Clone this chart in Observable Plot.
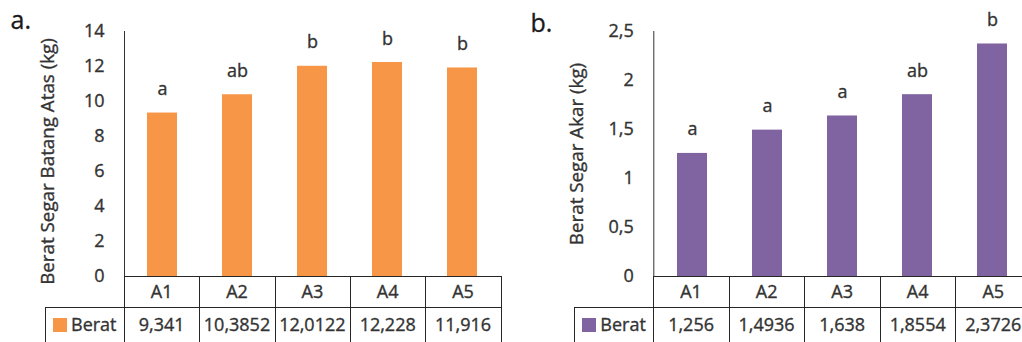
<!DOCTYPE html>
<html>
<head>
<meta charset="utf-8">
<script src="https://cdn.jsdelivr.net/npm/d3@7"></script>
<script src="https://cdn.jsdelivr.net/npm/@observablehq/plot@0.6"></script>
<style>
  html, body { margin: 0; background: #fff; }
  body { width: 1022px; height: 342px; overflow: hidden; position: relative; font-family: "Open Sans", sans-serif; }
  .panel { position: absolute; top: 0; width: 511px; height: 342px; overflow: hidden; }
  .panel svg { max-width: none !important; }
  .panel text { stroke: currentColor; stroke-width: 0.35px; paint-order: stroke; }
</style>
</head>
<body>
<div id="panel-a" class="panel" style="left:0"></div>
<div id="panel-b" class="panel" style="left:511px"></div>
<script>
// Treatments and measured fresh weights (kg)
const treatments = ["A1", "A2", "A3", "A4", "A5"];
const batangAtas = [9.341, 10.3852, 12.0122, 12.228, 11.916];
const batangLetters = ["a", "ab", "b", "b", "b"];
const akar = [1.256, 1.4936, 1.638, 1.8554, 2.3726];
const akarLetters = ["a", "a", "a", "ab", "b"];
const batangTicks = [0, 2, 4, 6, 8, 10, 12, 14];
const akarTicks = [0, 0.5, 1, 1.5, 2, 2.5];
const seriesName = "Berat";

const TEXT = "#333333";
const LINE = "#262626";
const comma = v => String(v).replace(".", ",");

function panel({host, tag, title, values, letters, ticks, color, width, marginLeft, marginRight, titleDy, tagDx, tagDy}) {
  const rows = treatments.map((t, i) => ({t, v: values[i], s: letters[i]}));
  const plot = Plot.plot({
    width, height: 342,
    marginLeft, marginRight, marginTop: 31, marginBottom: 66,
    style: {fontFamily: "'Open Sans', sans-serif", fontSize: "18px", color: TEXT, background: "#fff",
      overflow: "visible", maxWidth: "none"},
    x: {domain: treatments, paddingInner: 0.6, paddingOuter: 0.3, axis: null},
    y: {domain: [ticks[0], ticks[ticks.length - 1]], ticks, tickSize: 0, tickPadding: 20, tickFormat: comma, line: true, label: null},
    marks: [
      Plot.barY(rows, {x: "t", y: "v", fill: color}),
      Plot.text(rows, {x: "t", y: "v", text: "s", dy: -18, lineAnchor: "bottom", fill: TEXT}),
      Plot.text([title], {frameAnchor: "left", text: d => d, rotate: -90, dx: -77, dy: titleDy,
        textAnchor: "middle", lineAnchor: "middle", fill: TEXT, fontSize: 18.8}),
      Plot.text([tag], {frameAnchor: "top-left", text: d => d, dx: tagDx, dy: tagDy,
        lineAnchor: "bottom", textAnchor: "start", fontSize: 25, fill: "#1a1a1a"})
    ]
  });

  // Data table under the axis, aligned with the x band scale
  const xd = plot.scale("x");
  const band = d3.scaleBand().domain(xd.domain).range(xd.range)
    .paddingInner(xd.paddingInner ?? 0.6).paddingOuter(xd.paddingOuter ?? 0.3).align(xd.align ?? 0.5);
  const step = band.step(), bw = band.bandwidth();
  const colLeft = t => band(t) + bw / 2 - step / 2;
  const center = t => band(t) + bw / 2;
  const yd = plot.scale("y");
  const y0 = Math.round(yd.range[0]);
  const px = v => Math.round(v) + 0.5;
  const x0 = colLeft(treatments[0]);
  const x1 = colLeft(treatments[treatments.length - 1]) + step;
  const rowH = 31, legendW = 79, bottom = 342;

  const svg = d3.select(plot);
  const g = svg.append("g").attr("stroke", LINE).attr("stroke-width", 1).attr("fill", "none");
  // horizontal rules
  g.append("line").attr("x1", px(x0)).attr("x2", px(x1)).attr("y1", y0 + 0.5).attr("y2", y0 + 0.5);
  g.append("line").attr("x1", px(x0 - legendW)).attr("x2", px(x1)).attr("y1", y0 + rowH + 0.5).attr("y2", y0 + rowH + 0.5);
  // column separators
  const edges = treatments.map(colLeft).concat([x1]);
  g.selectAll(null).data(edges).join("line")
    .attr("x1", d => px(d)).attr("x2", d => px(d)).attr("y1", y0).attr("y2", bottom);
  g.append("line").attr("x1", px(x0 - legendW)).attr("x2", px(x0 - legendW)).attr("y1", y0 + rowH).attr("y2", bottom);

  const tg = svg.append("g").attr("fill", TEXT).attr("font-size", 18).attr("text-anchor", "middle");
  tg.selectAll(null).data(treatments).join("text")
    .attr("x", d => center(d)).attr("y", y0 + rowH / 2).attr("dy", "0.35em").text(d => d);
  tg.selectAll(null).data(rows).join("text")
    .attr("x", d => center(d.t)).attr("y", y0 + rowH + 18).attr("dy", "0.35em").text(d => comma(d.v));
  // legend key in the row header
  svg.append("rect").attr("x", Math.round(x0 - legendW + 8)).attr("y", y0 + rowH + 11)
    .attr("width", 14).attr("height", 14).attr("fill", color);
  svg.append("text").attr("x", x0 - legendW + 26).attr("y", y0 + rowH + 18).attr("dy", "0.35em")
    .attr("text-anchor", "start").attr("fill", TEXT).attr("font-size", 18).text(seriesName);

  document.getElementById(host).appendChild(plot);
}

panel({
  host: "panel-a", tag: "a.", title: "Berat Segar Batang Atas (kg)",
  values: batangAtas, letters: batangLetters, ticks: batangTicks, color: "#F79646",
  width: 511, marginLeft: 124, marginRight: 10.3, titleDy: 7.5, tagDx: -114, tagDy: -3
});
panel({
  host: "panel-b", tag: "b.", title: "Berat Segar Akar (kg)",
  values: akar, letters: akarLetters, ticks: akarTicks, color: "#8064A2",
  width: 520, marginLeft: 142.3, marginRight: 0, titleDy: 0, tagDx: -123.3, tagDy: 0
});
</script>
</body>
</html>
